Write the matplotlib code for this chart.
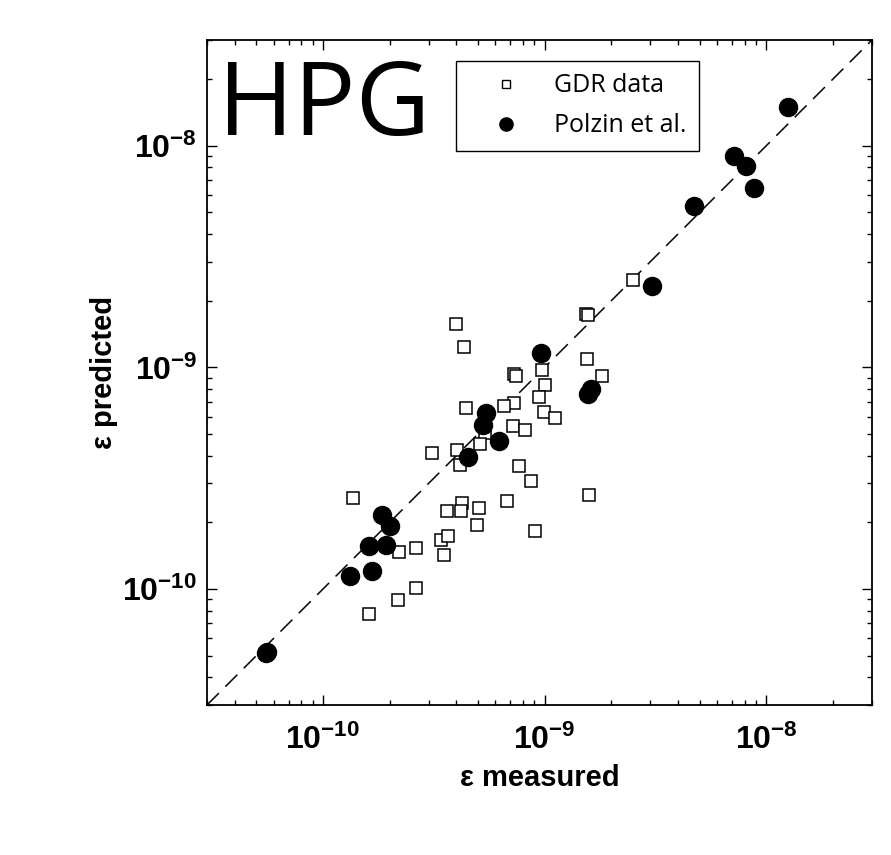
import numpy as np
import matplotlib.pyplot as plt
from matplotlib.lines import Line2D
from matplotlib.ticker import FuncFormatter, NullFormatter, FixedLocator, LogLocator

plt.rcParams['mathtext.fontset'] = 'custom'
plt.rcParams['mathtext.rm'] = 'Liberation Sans:bold'
plt.rcParams['mathtext.it'] = 'Liberation Sans:bold'
plt.rcParams['mathtext.bf'] = 'Liberation Sans:bold'

# GDR data (open squares)
gdr_measured = [2.50e-9, 1.54e-9, 1.57e-9, 4.00e-10, 4.31e-10, 1.56e-9, 7.28e-10, 7.46e-10,
                9.72e-10, 1.82e-9, 1.00e-9, 9.39e-10, 4.41e-10, 7.28e-10, 6.53e-10, 9.90e-10,
                1.12e-9, 7.23e-10, 8.13e-10, 5.37e-10, 5.10e-10, 3.12e-10, 4.03e-10, 4.14e-10,
                7.66e-10, 8.65e-10, 1.36e-10, 1.59e-9, 4.23e-10, 4.21e-10, 3.63e-10, 5.04e-10,
                6.76e-10, 4.94e-10, 9.10e-10, 3.40e-10, 3.68e-10, 2.62e-10, 2.20e-10, 3.53e-10,
                2.62e-10, 2.19e-10, 1.62e-10]
gdr_predicted = [2.49e-9, 1.75e-9, 1.73e-9, 1.57e-9, 1.24e-9, 1.086e-9, 9.30e-10, 9.18e-10,
                 9.69e-10, 9.11e-10, 8.32e-10, 7.35e-10, 6.58e-10, 6.91e-10, 6.68e-10, 6.29e-10,
                 5.93e-10, 5.43e-10, 5.24e-10, 5.06e-10, 4.51e-10, 4.13e-10, 4.26e-10, 3.62e-10,
                 3.59e-10, 3.08e-10, 2.58e-10, 2.67e-10, 2.45e-10, 2.25e-10, 2.25e-10, 2.31e-10,
                 2.51e-10, 1.94e-10, 1.83e-10, 1.67e-10, 1.74e-10, 1.53e-10, 1.47e-10, 1.43e-10,
                 1.007e-10, 8.92e-11, 7.74e-11]

# Polzin et al. (filled circles)
polzin_measured = [1.25e-8, 7.13e-9, 8.11e-9, 8.83e-9, 4.74e-9, 3.04e-9, 9.66e-10, 1.62e-9,
                   1.57e-9, 5.42e-10, 5.27e-10, 6.26e-10, 4.53e-10, 1.84e-10, 2.00e-10, 1.62e-10,
                   1.92e-10, 1.66e-10, 1.33e-10, 5.52e-11, 5.60e-11]
polzin_predicted = [1.50e-8, 8.95e-9, 8.09e-9, 6.48e-9, 5.35e-9, 2.32e-9, 1.156e-9, 8.02e-10,
                    7.61e-10, 6.25e-10, 5.48e-10, 4.64e-10, 3.94e-10, 2.15e-10, 1.93e-10, 1.57e-10,
                    1.58e-10, 1.21e-10, 1.14e-10, 5.13e-11, 5.19e-11]

lims = [3e-11, 3e-8]
major_ticks = [1e-10, 1e-9, 1e-8]

fig = plt.figure(figsize=(8.91, 8.55), dpi=100)
ax = fig.add_axes([207/891, 1-705/855, 665/891, 665/855])

ax.plot(lims, lims, color='black', lw=1.1, dashes=(11, 6), zorder=1)
ax.plot(gdr_measured, gdr_predicted, ls='none', marker='s', ms=8.5, mfc='white',
        mec='black', mew=1.1, zorder=2)
ax.plot(polzin_measured, polzin_predicted, ls='none', marker='o', ms=13, mfc='black',
        mec='black', zorder=3)

ax.set_xscale('log')
ax.set_yscale('log')
ax.set_xlim(lims)
ax.set_ylim(lims)

fmt = FuncFormatter(lambda v, p: r'$\mathrm{10^{%d}}$' % round(np.log10(v)))
for axis in (ax.xaxis, ax.yaxis):
    axis.set_major_locator(FixedLocator(major_ticks))
    axis.set_minor_locator(LogLocator(base=10, subs=np.arange(2, 10), numticks=20))
    axis.set_major_formatter(fmt)
    axis.set_minor_formatter(NullFormatter())

for sp in ax.spines.values():
    sp.set_linewidth(1.3)
ax.tick_params(which='both', direction='in', top=True, right=True, width=1)
ax.tick_params(which='major', length=7, labelsize=23)
ax.tick_params(axis='x', which='major', pad=14)
ax.tick_params(axis='y', which='major', pad=7)
ax.tick_params(which='minor', length=3.5)

ax.set_xlabel('ε measured', fontsize=21, fontweight='bold', family='Liberation Sans', labelpad=6)
ax.set_ylabel('ε predicted', fontsize=21, fontweight='bold', family='Liberation Sans', labelpad=3)

ax.text(0.016, 0.975, 'HPG', transform=ax.transAxes, fontsize=74, family='Open Sans',
        va='top', ha='left')

handles = [Line2D([], [], ls='none', marker='s', ms=6, mfc='white', mec='black', mew=1),
           Line2D([], [], ls='none', marker='o', ms=9.5, mfc='black', mec='black')]
leg = ax.legend(handles, ['GDR data', 'Polzin et al.'], loc='upper left',
                bbox_to_anchor=(456/891, 1-61/855), bbox_transform=fig.transFigure,
                prop={'family': 'Open Sans', 'size': 18}, fancybox=False, framealpha=1,
                edgecolor='black', borderpad=0.5, labelspacing=0.6, handletextpad=0.4,
                borderaxespad=0, handlelength=3.0)
leg.get_frame().set_linewidth(1)

fig.savefig('out.png', dpi=100)
